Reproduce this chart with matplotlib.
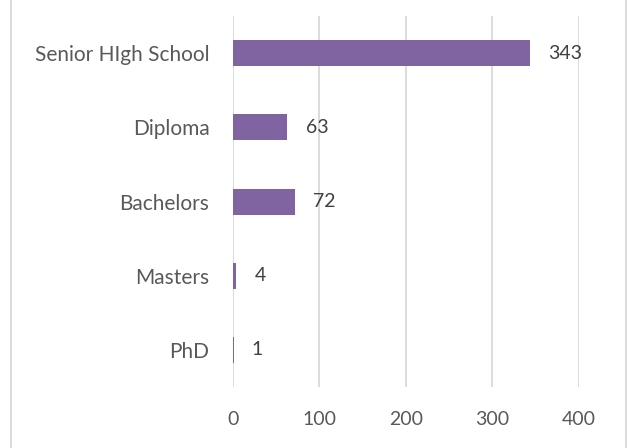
import matplotlib.pyplot as plt
from matplotlib.lines import Line2D

# education level counts
levels = ['Senior HIgh School', 'Diploma', 'Bachelors', 'Masters', 'PhD']
counts = [343, 63, 72, 4, 1]
x_ticks = [0, 100, 200, 300, 400]

BAR_COLOR = '#8064A2'
GRID_COLOR = '#D9D9D9'

plt.rcParams['font.family'] = ['Lato', 'DejaVu Sans']

fig = plt.figure(figsize=(6.27, 4.48), dpi=100)
ax = fig.add_axes([0.3716, 0.1362, 0.5518, 0.8278])

pos = list(range(len(levels)))
bars = ax.barh(pos, counts, height=0.35, color=BAR_COLOR, zorder=3)
ax.bar_label(bars, labels=[str(c) for c in counts], padding=13,
             fontsize=14, color='#404040')

ax.set_yticks(pos)
ax.set_yticklabels(levels, fontsize=15)
ax.set_ylim(len(levels) - 0.5, -0.5)
ax.set_xlim(0, 400)
ax.set_xticks(x_ticks)

ax.grid(axis='x', color=GRID_COLOR, linewidth=1.3, zorder=0)
for s in ax.spines.values():
    s.set_visible(False)
ax.tick_params(axis='both', length=0, labelcolor='#595959')
ax.tick_params(axis='x', pad=17, labelsize=14)
ax.tick_params(axis='y', pad=17)

# chart frame edges
fig.add_artist(Line2D([11 / 627, 11 / 627], [0, 1], color=GRID_COLOR, linewidth=1.3))
fig.add_artist(Line2D([626 / 627, 626 / 627], [0, 1], color=GRID_COLOR, linewidth=1.3))

fig.savefig('out.png', dpi=100)
